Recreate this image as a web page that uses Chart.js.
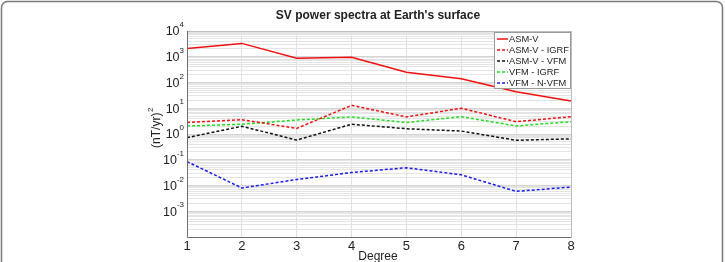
<!DOCTYPE html>
<html lang="en">
<head>
    <meta charset="UTF-8">
    <title>SV power spectra</title>
    <script src="https://cdn.jsdelivr.net/npm/chart.js"></script>
    <style>
        html, body { margin: 0; padding: 0; background: #fff; }
        #wrap { width: 725px; height: 262px; }
    </style>
</head>
<body>
    <div id="wrap"><canvas id="myChart" width="725" height="262"></canvas></div>
    <script>
        // chart data
        const degrees = ['1', '2', '3', '4', '5', '6', '7', '8'];
        const asmV = [2100, 3300, 870, 950, 250, 140, 44, 19];
        const asmVIgrf = [2.8, 3.6, 1.65, 13, 4.6, 10, 3.0, 4.7];
        const asmVVfm = [0.72, 2.0, 0.58, 2.4, 1.6, 1.3, 0.57, 0.65];
        const vfmIgrf = [2.05, 2.4, 3.5, 4.6, 2.8, 4.7, 2.05, 3.0];
        const vfmNVfm = [0.085, 0.008, 0.017, 0.032, 0.049, 0.026, 0.0059, 0.0087];
        const decadeExps = [-4, -3, -2, -1, 0, 1, 2, 3, 4];
        const labelExps = [-3, -2, -1, 0, 1, 2, 3, 4];

        const FONT = '"Liberation Sans", Arial, Helvetica, sans-serif';

        // log ticks 1..9 x 10^k like matlab minor grid
        function logTicks() {
            const t = [];
            for (let i = 0; i < decadeExps.length - 1; i++) {
                for (let m = 1; m <= 9; m++) t.push({ value: m * Math.pow(10, decadeExps[i]) });
            }
            t.push({ value: Math.pow(10, decadeExps[decadeExps.length - 1]) });
            return t;
        }

        function isDecade(v) {
            const l = Math.log10(v);
            return Math.abs(l - Math.round(l)) < 1e-6;
        }

        const decor = {
            id: 'decor',
            beforeDraw(chart) {
                const c = chart.ctx;
                c.save();
                c.fillStyle = '#fff';
                c.fillRect(0, 0, chart.width, chart.height);
                // outer frame
                c.strokeStyle = '#7a7a7a';
                c.lineWidth = 1.5;
                c.beginPath();
                c.roundRect(1.5, 1.5, 721, 300, 6);
                c.stroke();
                c.restore();
            },
            afterDraw(chart) {
                const c = chart.ctx;
                const a = chart.chartArea;
                const y = chart.scales.y;
                c.save();
                // axes box
                c.strokeStyle = '#bdbdbd';
                c.lineWidth = 1;
                c.strokeRect(a.left + 0.5, a.top + 0.5, a.right - a.left, a.bottom - a.top);
                c.strokeStyle = '#6e6e6e';
                c.beginPath();
                c.moveTo(a.left + 0.5, a.top);
                c.lineTo(a.left + 0.5, a.bottom + 0.5);
                c.lineTo(a.right, a.bottom + 0.5);
                c.stroke();

                // title
                c.fillStyle = '#222';
                c.font = 'bold 12px ' + FONT;
                c.textAlign = 'center';
                c.textBaseline = 'middle';
                c.fillText("SV power spectra at Earth's surface", 378, 16);

                // y tick labels 10^k
                labelExps.forEach(e => {
                    const py = y.getPixelForValue(Math.pow(10, e));
                    const exp = String(e);
                    c.font = '8px ' + FONT;
                    const ew = c.measureText(exp).width;
                    c.font = '12.5px ' + FONT;
                    c.textAlign = 'right';
                    c.textBaseline = 'middle';
                    c.fillText('10', 184 - ew, py + 1);
                    c.font = '8px ' + FONT;
                    c.textAlign = 'left';
                    c.fillText(exp, 184 - ew, py - 6);
                });

                // y title
                c.save();
                c.translate(155, 128);
                c.rotate(-Math.PI / 2);
                c.font = '12px ' + FONT;
                c.textAlign = 'left';
                c.textBaseline = 'middle';
                const base = '(nT/yr)';
                const bw = c.measureText(base).width;
                c.font = '8px ' + FONT;
                const sw = c.measureText('2').width;
                const x0 = -(bw + sw) / 2;
                c.font = '12px ' + FONT;
                c.fillText(base, x0, 2);
                c.font = '8px ' + FONT;
                c.fillText('2', x0 + bw + 0.5, -4);
                c.restore();

                // x title
                c.font = '12px ' + FONT;
                c.textAlign = 'center';
                c.textBaseline = 'middle';
                c.fillText('Degree', 378, 257);

                // legend inside axes
                const lx = 494, ly = 32, lw = 77, lh = 57;
                c.fillStyle = '#fff';
                c.fillRect(lx, ly, lw, lh);
                c.strokeStyle = '#9a9a9a';
                c.strokeRect(lx + 0.5, ly + 0.5, lw - 1, lh - 1);
                c.font = '9.3px ' + FONT;
                c.textAlign = 'left';
                chart.data.datasets.forEach((ds, i) => {
                    const yy = 39 + i * 11;
                    c.strokeStyle = ds.borderColor;
                    c.lineWidth = 1.5;
                    c.setLineDash(ds.borderDash || []);
                    c.beginPath();
                    c.moveTo(497, yy);
                    c.lineTo(508, yy);
                    c.stroke();
                    c.setLineDash([]);
                    c.fillStyle = '#222';
                    c.fillText(ds.label, 509, yy + 0.5);
                });
                c.restore();
            }
        };

        const ctx = document.getElementById('myChart').getContext('2d');
        const myChart = new Chart(ctx, {
            type: 'line',
            data: {
                labels: degrees,
                datasets: [
                    { label: 'ASM-V', data: asmV, borderColor: '#f01010', borderWidth: 1.5 },
                    { label: 'ASM-V - IGRF', data: asmVIgrf, borderColor: '#f01010', borderWidth: 1.5, borderDash: [3, 2] },
                    { label: 'ASM-V - VFM', data: asmVVfm, borderColor: '#111', borderWidth: 1.5, borderDash: [3, 2] },
                    { label: 'VFM - IGRF', data: vfmIgrf, borderColor: '#22dd22', borderWidth: 1.5, borderDash: [3, 2] },
                    { label: 'VFM - N-VFM', data: vfmNVfm, borderColor: '#1a1aee', borderWidth: 1.5, borderDash: [3, 2] }
                ]
            },
            options: {
                responsive: false,
                animation: false,
                layout: { padding: { left: 147, right: 154, top: 31, bottom: 0 } },
                elements: { point: { radius: 0 }, line: { tension: 0 } },
                plugins: { legend: { display: false }, tooltip: { enabled: false } },
                scales: {
                    x: {
                        type: 'category',
                        offset: false,
                        grid: { color: '#e0e0e0', drawTicks: false },
                        border: { display: false },
                        ticks: { color: '#222', font: { size: 13, family: FONT }, padding: 2, maxRotation: 0 },
                        afterFit(s) { s.height = 25; }
                    },
                    y: {
                        type: 'logarithmic',
                        min: 1e-4,
                        max: 1e4,
                        afterBuildTicks(s) { s.ticks = logTicks(); },
                        grid: {
                            drawTicks: false,
                            color: c => (c.tick && isDecade(c.tick.value)) ? '#d4d4d4' : '#e4e4e4'
                        },
                        border: { display: false },
                        ticks: { display: false, autoSkip: false },
                        afterFit(s) { s.width = 40; }
                    }
                }
            },
            plugins: [decor]
        });
    </script>
</body>
</html>
